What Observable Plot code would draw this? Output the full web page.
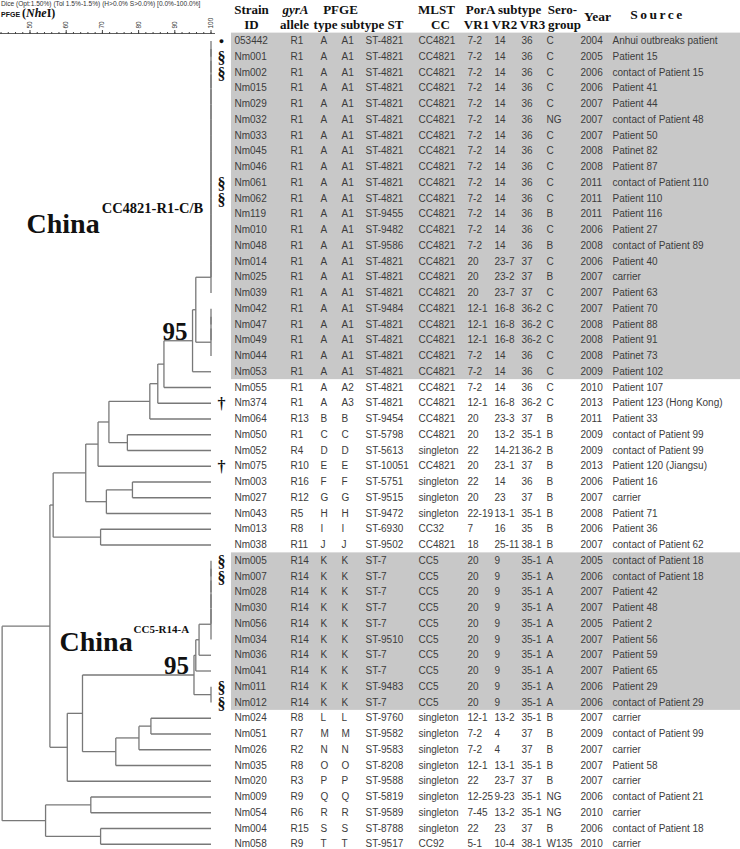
<!DOCTYPE html>
<html><head><meta charset="utf-8">
<script src="https://cdn.jsdelivr.net/npm/d3@7"></script>
<script src="https://cdn.jsdelivr.net/npm/@observablehq/plot@0.6"></script>
<style>
html,body{margin:0;padding:0;background:#fff;}
#chart{position:relative;width:740px;height:849px;overflow:hidden;background:#fff;}
#chart svg{position:absolute;left:0;top:0;}
#dice{position:absolute;left:1px;top:0px;font:6.6px "Liberation Sans",Arial,sans-serif;color:#333;white-space:nowrap;line-height:8px;}
#pfge{position:absolute;left:1px;top:5px;white-space:nowrap;color:#111;line-height:14px;}
#pfge .a{font:bold 7px "Liberation Sans",Arial,sans-serif;}
#pfge .b{font:bold 12px "Liberation Serif","Times New Roman",serif;}
</style></head>
<body><div id="chart"></div>
<script>
// ---------------- DATA ----------------
const strains = ["053442","Nm001","Nm002","Nm015","Nm029","Nm032","Nm033","Nm045","Nm046","Nm061","Nm062","Nm119","Nm010","Nm048","Nm014","Nm025","Nm039","Nm042","Nm047","Nm049","Nm044","Nm053","Nm055","Nm374","Nm064","Nm050","Nm052","Nm075","Nm003","Nm027","Nm043","Nm013","Nm038","Nm005","Nm007","Nm028","Nm030","Nm056","Nm034","Nm036","Nm041","Nm011","Nm012","Nm024","Nm051","Nm026","Nm035","Nm020","Nm009","Nm054","Nm004","Nm058"];
const markers = ["●","§","§","","","","","","","§","§","","","","","","","","","","","","","†","","","","†","","","","","","§","§","","","","","","","§","§","","","","","","","","",""];
const gyrA = ["R1","R1","R1","R1","R1","R1","R1","R1","R1","R1","R1","R1","R1","R1","R1","R1","R1","R1","R1","R1","R1","R1","R1","R1","R13","R1","R4","R10","R16","R12","R5","R8","R11","R14","R14","R14","R14","R14","R14","R14","R14","R14","R14","R8","R7","R2","R8","R3","R9","R6","R15","R9"];
const pfgeType = ["A","A","A","A","A","A","A","A","A","A","A","A","A","A","A","A","A","A","A","A","A","A","A","A","B","C","D","E","F","G","H","I","J","K","K","K","K","K","K","K","K","K","K","L","M","N","O","P","Q","R","S","T"];
const pfgeSubtype = ["A1","A1","A1","A1","A1","A1","A1","A1","A1","A1","A1","A1","A1","A1","A1","A1","A1","A1","A1","A1","A1","A1","A2","A3","B","C","D","E","F","G","H","I","J","K","K","K","K","K","K","K","K","K","K","L","M","N","O","P","Q","R","S","T"];
const mlstST = ["ST-4821","ST-4821","ST-4821","ST-4821","ST-4821","ST-4821","ST-4821","ST-4821","ST-4821","ST-4821","ST-4821","ST-9455","ST-9482","ST-9586","ST-4821","ST-4821","ST-4821","ST-9484","ST-4821","ST-4821","ST-4821","ST-4821","ST-4821","ST-4821","ST-9454","ST-5798","ST-5613","ST-10051","ST-5751","ST-9515","ST-9472","ST-6930","ST-9502","ST-7","ST-7","ST-7","ST-7","ST-7","ST-9510","ST-7","ST-7","ST-9483","ST-7","ST-9760","ST-9582","ST-9583","ST-8208","ST-9588","ST-5819","ST-9589","ST-8788","ST-9517"];
const mlstCC = ["CC4821","CC4821","CC4821","CC4821","CC4821","CC4821","CC4821","CC4821","CC4821","CC4821","CC4821","CC4821","CC4821","CC4821","CC4821","CC4821","CC4821","CC4821","CC4821","CC4821","CC4821","CC4821","CC4821","CC4821","CC4821","CC4821","singleton","CC4821","singleton","singleton","singleton","CC32","CC4821","CC5","CC5","CC5","CC5","CC5","CC5","CC5","CC5","CC5","CC5","singleton","singleton","singleton","singleton","singleton","singleton","singleton","singleton","CC92"];
const vr1 = ["7-2","7-2","7-2","7-2","7-2","7-2","7-2","7-2","7-2","7-2","7-2","7-2","7-2","7-2","20","20","20","12-1","12-1","12-1","7-2","7-2","7-2","12-1","20","20","22","20","22","20","22-19","7","18","20","20","20","20","20","20","20","20","20","20","12-1","7-2","7-2","12-1","22","12-25","7-45","22","5-1"];
const vr2 = ["14","14","14","14","14","14","14","14","14","14","14","14","14","14","23-7","23-2","23-7","16-8","16-8","16-8","14","14","14","16-8","23-3","13-2","14-21","23-1","14","23","13-1","16","25-11","9","9","9","9","9","9","9","9","9","9","13-2","4","4","13-1","23-7","9-23","13-2","23","10-4"];
const vr3 = ["36","36","36","36","36","36","36","36","36","36","36","36","36","36","37","37","37","36-2","36-2","36-2","36","36","36","36-2","37","35-1","36-2","37","36","37","35-1","35","38-1","35-1","35-1","35-1","35-1","35-1","35-1","35-1","35-1","35-1","35-1","35-1","37","37","35-1","37","35-1","35-1","37","38-1"];
const serogroup = ["C","C","C","C","C","NG","C","C","C","C","C","B","C","B","C","B","C","C","C","C","C","C","C","C","B","B","B","B","B","B","B","B","B","A","A","A","A","A","A","A","A","A","A","B","B","B","B","B","NG","NG","B","W135"];
const years = ["2004","2005","2006","2006","2007","2007","2007","2008","2008","2011","2011","2011","2006","2008","2006","2007","2007","2007","2008","2008","2008","2009","2010","2013","2011","2009","2009","2013","2006","2007","2008","2006","2007","2005","2006","2007","2007","2005","2007","2007","2007","2006","2006","2007","2009","2007","2007","2007","2006","2010","2006","2010"];
const sources = ["Anhui outbreaks patient","Patient 15","contact of Patient 15","Patient 41","Patient 44","contact of Patient 48","Patient 50","Patinet 82","Patient 87","contact of Patient 110","Patient 110","Patient 116","Patient 27","contact of Patient 89","Patient 40","carrier","Patient 63","Patient 70","Patient 88","Patient 91","Patinet 73","Patient 102","Patient 107","Patient 123 (Hong Kong)","Patient 33","contact of Patient 99","contact of Patient 99","Patient 120 (Jiangsu)","Patient 16","carrier","Patient 71","Patient 36","contact of Patient 62","contact of Patient 18","contact of Patient 18","Patient 42","Patient 48","Patient 2","Patient 56","Patient 59","Patient 65","Patient 29","contact of Patient 29","carrier","contact of Patient 99","carrier","Patient 58","carrier","contact of Patient 21","carrier","contact of Patient 18","carrier"];

// shaded clonal complexes (first and last strain)
const shadedClusters = [["053442","Nm053"],["Nm005","Nm012"]];

// identical PFGE profiles (100% Dice)
const identicalA = ["053442","Nm001","Nm002","Nm015","Nm029","Nm032","Nm033","Nm045","Nm046","Nm061","Nm062","Nm119","Nm010","Nm048","Nm014","Nm025","Nm039"];
const identicalB = ["Nm042","Nm047","Nm049","Nm044"];
const identicalK = ["Nm005","Nm007","Nm028","Nm030","Nm056","Nm034"];
const identicalS = ["Nm011","Nm012"];

// dendrogram: [Dice similarity %, child, child]
function ladder(sim, ids){ let n = ids[0]; for (let i = 1; i < ids.length; i++) n = [sim, n, ids[i]]; return n; }
const tree =
 [42.3,
  [55.5,
   [56.4,
    [65.4,
     [68.8,
      [71.8,
       [83.1,
        [85.3,
         [87.0,
          [94.9, [95.8, ladder(100, identicalA), ladder(100, identicalB)], "Nm053"],
          "Nm055"],
         "Nm374"],
        "Nm064"],
       [76.9, "Nm050", "Nm052"]],
      "Nm075"],
     [71.1, [78.3, "Nm003", "Nm027"], "Nm043"]],
    [69.5, "Nm013", "Nm038"]],
   [60.3,
    [64.5,
     [95.3, [95.8, [96.7, ladder(100, identicalK), "Nm036"], "Nm041"], ladder(100, identicalS)],
     [73.7, [80.1, [83.4, "Nm024", "Nm051"], "Nm026"], "Nm035"]],
    "Nm020"]],
  [54.3, [66.8, "Nm009", "Nm054"], [69.5, "Nm004", "Nm058"]]];

const supportValues = [{clade: ["053442","Nm053"], value: "95"}, {clade: ["Nm005","Nm012"], value: "95"}];
const cladeNames = [{name: "China", sup: "CC4821-R1-C/B"}, {name: "China", sup: "CC5-R14-A"}];

const majorTicks = [50, 60, 70, 80, 90, 100];
const minorTicks = d3.range(42, 101, 2);

const headerTop = ["Strain", "gyrA", "PFGE", "MLST", "PorA subtype", "Sero-"];
const headerBottom = ["ID", "allele", "type", "subtype", "ST", "CC", "VR1", "VR2", "VR3", "group"];
const headerMid = ["Year", "Source"];

// ---------------- LAYOUT (positions / styles) ----------------
const serif = "'Liberation Serif','Times New Roman',serif";
const sans = "'Liberation Sans',Arial,sans-serif";
const W = 740, H = 849;
const rowRange = [40.5, 843.75];
const headerSize = 13;
const headerTopX = [251, 295, 340, 436, 503, 562];
const headerBottomX = [251, 294, 325, 362, 395, 440, 476, 504, 532, 564];
const headerMidX = [597, 657];
const headerMidRow = [-0.55, -0.7];
const columnX = {marker: 221, id: 234, gyrA: 290, type: 320, subtype: 341, st: 365, cc: 418, vr1: 467, vr2: 494, vr3: 521, sero: 546, year: 580, source: 612};
const bandX = [231, 740];
const cladeLabelPos = [{x: 49.03, row: 13.22, sx: 69.8, srow: 11.95}, {x: 58.15, row: 39.7, sx: 78.6, srow: 38.6}];

// ---------------- BUILD ----------------
const rowOf = id => strains.indexOf(id) + 1;
const segments = [], nodes = [];
function layout(n) {
  if (typeof n === "string") return {sim: 100, y: rowOf(n), leaves: [n]};
  const [sim, a, b] = n;
  const A = layout(a), B = layout(b);
  segments.push({x1: sim, x2: sim, y1: Math.min(A.y, B.y), y2: Math.max(A.y, B.y)});
  for (const c of [A, B]) segments.push({x1: sim, x2: c.sim, y1: c.y, y2: c.y});
  const node = {sim, y: (A.y + B.y) / 2, leaves: [...A.leaves, ...B.leaves]};
  nodes.push(node);
  return node;
}
layout(tree);

const supportData = supportValues.map(s => {
  const cands = nodes.filter(n => s.clade.every(id => n.leaves.includes(id)));
  const best = cands.reduce((a, b) => a.leaves.length <= b.leaves.length ? a : b);
  return {sim: best.sim, y: best.y, value: s.value};
});
const cladeData = cladeNames.map((c, i) => ({...c, ...cladeLabelPos[i]}));

const treePlot = Plot.plot({
  width: 214, height: H,
  marginTop: 33, marginRight: 0, marginBottom: 0, marginLeft: 0,
  style: {background: "transparent", overflow: "visible"},
  x: {domain: [50, 100], range: [29.5, 210.5]},
  y: {domain: [1, 52], range: rowRange, axis: null},
  marks: [
    Plot.frame({anchor: "top", stroke: "#333", strokeWidth: 0.8}),
    Plot.axisX(minorTicks, {anchor: "top", tickSize: 2, tickFormat: () => "", label: null, stroke: "#444"}),
    Plot.axisX(majorTicks, {anchor: "top", tickSize: 4, tickRotate: -90, tickPadding: 1, fontSize: 6.5, fontFamily: sans, label: null, stroke: "#444", fill: "#333"}),
    Plot.link(segments, {x1: "x1", y1: "y1", x2: "x2", y2: "y2", stroke: "#787878", strokeWidth: 1.3}),
    Plot.text(supportData, {x: "sim", y: "y", text: "value", textAnchor: "end", lineAnchor: "bottom", dx: -5, dy: -1, fontFamily: serif, fontWeight: "bold", fontSize: 25, fill: "#111"}),
    Plot.text(cladeData, {x: "x", y: "row", text: "name", textAnchor: "start", lineAnchor: "bottom", fontFamily: serif, fontWeight: "bold", fontSize: 28, fill: "#111"}),
    Plot.text(cladeData.slice(0, 1), {x: "sx", y: "srow", text: "sup", textAnchor: "start", lineAnchor: "bottom", fontFamily: serif, fontWeight: "bold", fontSize: 14.5, fill: "#111"}),
    Plot.text(cladeData.slice(1), {x: "sx", y: "srow", text: "sup", textAnchor: "start", lineAnchor: "bottom", fontFamily: serif, fontWeight: "bold", fontSize: 11, fill: "#111"})
  ]
});

const colData = (values) => values.map((v, i) => ({v, row: i + 1}));
const dataCols = [
  [strains, columnX.id], [gyrA, columnX.gyrA], [pfgeType, columnX.type], [pfgeSubtype, columnX.subtype],
  [mlstST, columnX.st], [mlstCC, columnX.cc], [vr1, columnX.vr1], [vr2, columnX.vr2], [vr3, columnX.vr3],
  [serogroup, columnX.sero], [years, columnX.year], [sources, columnX.source]
];
const markerData = colData(markers).filter(d => d.v);
const bands = shadedClusters.map(([a, b]) => ({y1: rowOf(a) - 0.5, y2: rowOf(b) + 0.5}));
const hdrTop = headerTop.map((t, i) => ({t, x: headerTopX[i], row: -1}));
const hdrBottom = headerBottom.map((t, i) => ({t, x: headerBottomX[i], row: 0}));
const hdrMid = headerMid.map((t, i) => ({t, x: headerMidX[i], row: headerMidRow[i]}));

const tablePlot = Plot.plot({
  width: W, height: H, margin: 0,
  style: {background: "transparent"},
  x: {domain: [0, W], range: [0, W], axis: null},
  y: {domain: [1, 52], range: rowRange, axis: null},
  marks: [
    Plot.rect(bands, {x1: () => bandX[0], x2: () => bandX[1], y1: "y1", y2: "y2", fill: "#c8c8c8"}),
    ...dataCols.map(([vals, cx]) => Plot.text(colData(vals), {x: () => cx, y: "row", text: "v", textAnchor: "start", fontFamily: sans, fontSize: 10, fill: "#3c3c3c"})),
    Plot.text(markerData.filter(d => d.v !== "●"), {x: () => columnX.marker, y: "row", text: "v", dy: 1, fontFamily: serif, fontWeight: "bold", fontSize: 16, fill: "#111"}),
    Plot.text(markerData.filter(d => d.v === "●"), {x: () => columnX.marker, y: "row", text: "v", fontFamily: sans, fontSize: 9, fill: "#111"}),
    Plot.text(hdrTop.filter(d => d.t !== "gyrA"), {x: "x", y: "row", text: "t", fontFamily: serif, fontWeight: "bold", fontSize: headerSize, fill: "#111"}),
    Plot.text(hdrTop.filter(d => d.t === "gyrA"), {x: "x", y: "row", text: "t", fontFamily: serif, fontWeight: "bold", fontStyle: "italic", fontSize: headerSize, fill: "#111"}),
    Plot.text(hdrBottom, {x: "x", y: "row", text: "t", fontFamily: serif, fontWeight: "bold", fontSize: headerSize, fill: "#111"}),
    Plot.text(hdrMid, {x: "x", y: "row", text: "t", fontFamily: serif, fontWeight: "bold", fontSize: 13.5, fill: "#111"})
  ]
});
d3.select(tablePlot).selectAll("text").filter(function(){ return this.textContent === "Source"; }).attr("letter-spacing", "2.5px");

const chart = document.getElementById("chart");
chart.appendChild(treePlot);
chart.appendChild(tablePlot);
const dice = document.createElement("div");
dice.id = "dice";
dice.textContent = "Dice (Opt:1.50%) (Tol 1.5%-1.5%) (H>0.0% S>0.0%) [0.0%-100.0%]";
chart.appendChild(dice);
const pf = document.createElement("div");
pf.id = "pfge";
pf.innerHTML = '<span class="a">PFGE </span><span class="b">(<i>Nhe</i>I)</span>';
chart.appendChild(pf);
</script></body></html>
